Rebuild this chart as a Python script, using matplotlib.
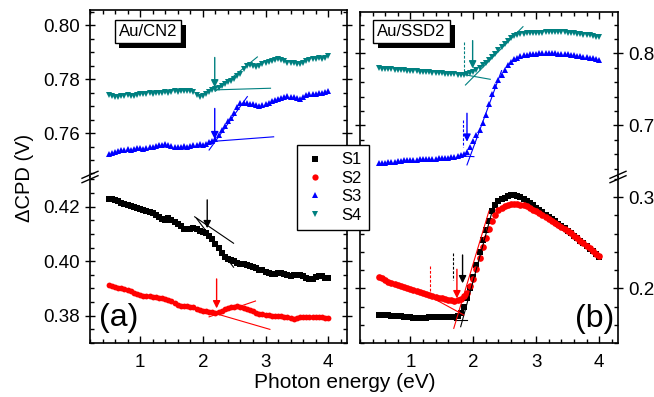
import numpy as np
import matplotlib
matplotlib.use("Agg")
import matplotlib.pyplot as plt
from matplotlib.lines import Line2D
from matplotlib.ticker import MultipleLocator, FormatStrFormatter
import matplotlib.patheffects as pe

plt.rcParams['font.family'] = ['Liberation Sans', 'DejaVu Sans']

# ---------------- data ----------------
energy = np.round(np.arange(0.5, 4.001, 0.05), 2)

cn2_S1 = [0.4228, 0.4227, 0.4224, 0.4221, 0.4215, 0.4210, 0.4206, 0.4203, 0.4198, 0.4195,
          0.4190, 0.4188, 0.4184, 0.4179, 0.4176, 0.4170, 0.4162, 0.4156, 0.4153, 0.4157,
          0.4150, 0.4145, 0.4138, 0.4128, 0.4120, 0.4117, 0.4119, 0.4121, 0.4117, 0.4112,
          0.4108, 0.4104, 0.4094, 0.4080, 0.4063, 0.4047, 0.4030, 0.4016, 0.4010, 0.4004,
          0.3999, 0.3995, 0.3990, 0.3988, 0.3986, 0.3983, 0.3979, 0.3974, 0.3969, 0.3966,
          0.3960, 0.3955, 0.3953, 0.3954, 0.3957, 0.3958, 0.3953, 0.3948, 0.3946, 0.3948,
          0.3950, 0.3949, 0.3945, 0.3940, 0.3934, 0.3936, 0.3941, 0.3946, 0.3944, 0.3940,
          0.3938]
cn2_S2 = [0.3913, 0.3910, 0.3906, 0.3903, 0.3901, 0.3899, 0.3896, 0.3889, 0.3883, 0.3879,
          0.3876, 0.3874, 0.3873, 0.3871, 0.3870, 0.3868, 0.3866, 0.3864, 0.3862, 0.3859,
          0.3853, 0.3846, 0.3840, 0.3836, 0.3835, 0.3834, 0.3832, 0.3831, 0.3826, 0.3821,
          0.3818, 0.3817, 0.3814, 0.3812, 0.3811, 0.3815, 0.3819, 0.3823, 0.3828, 0.3831,
          0.3833, 0.3834, 0.3833, 0.3830, 0.3826, 0.3821, 0.3816, 0.3811, 0.3807, 0.3805,
          0.3803, 0.3801, 0.3799, 0.3799, 0.3798, 0.3798, 0.3797, 0.3796, 0.3791, 0.3787,
          0.3790, 0.3794, 0.3796, 0.3797, 0.3796, 0.3795, 0.3796, 0.3795, 0.3794, 0.3792,
          0.3790]
cn2_S3 = [0.7523, 0.7527, 0.7530, 0.7533, 0.7536, 0.7538, 0.7540, 0.7537, 0.7541, 0.7544,
          0.7543, 0.7540, 0.7545, 0.7548, 0.7549, 0.7551, 0.7554, 0.7556, 0.7558, 0.7557,
          0.7553, 0.7549, 0.7547, 0.7550, 0.7551, 0.7549, 0.7553, 0.7556, 0.7557, 0.7559,
          0.7556, 0.7560, 0.7565, 0.7571, 0.7578, 0.7593, 0.7610, 0.7627, 0.7643, 0.7657,
          0.7673, 0.7695, 0.7710, 0.7712, 0.7710, 0.7708, 0.7706, 0.7704, 0.7702, 0.7703,
          0.7708, 0.7713, 0.7718, 0.7722, 0.7726, 0.7731, 0.7734, 0.7736, 0.7735, 0.7732,
          0.7728, 0.7726, 0.7733, 0.7740, 0.7743, 0.7744, 0.7746, 0.7748, 0.7750, 0.7752,
          0.7757]
cn2_S4 = [0.7741, 0.7738, 0.7735, 0.7733, 0.7736, 0.7738, 0.7740, 0.7737, 0.7738, 0.7742,
          0.7745, 0.7743, 0.7746, 0.7748, 0.7744, 0.7747, 0.7750, 0.7748, 0.7751, 0.7750,
          0.7752, 0.7754, 0.7753, 0.7756, 0.7757, 0.7755, 0.7757, 0.7752, 0.7742, 0.7734,
          0.7738, 0.7746, 0.7752, 0.7758, 0.7762, 0.7768, 0.7773, 0.7781, 0.7789, 0.7794,
          0.7801, 0.7810, 0.7819, 0.7836, 0.7848, 0.7852, 0.7849, 0.7846, 0.7850, 0.7856,
          0.7861, 0.7863, 0.7866, 0.7872, 0.7874, 0.7870, 0.7866, 0.7861, 0.7859, 0.7858,
          0.7856, 0.7857, 0.7861, 0.7866, 0.7871, 0.7875, 0.7874, 0.7877, 0.7874, 0.7878,
          0.7887]

ssd2_S1 = [0.1707, 0.1706, 0.1705, 0.1703, 0.1700, 0.1697, 0.1695, 0.1693, 0.1690, 0.1688,
           0.1684, 0.1679, 0.1673, 0.1670, 0.1672, 0.1676, 0.1680, 0.1683, 0.1685, 0.1687,
           0.1688, 0.1688, 0.1689, 0.1689, 0.1690, 0.1700, 0.1725, 0.1800, 0.1890, 0.2005,
           0.2120, 0.2260, 0.2400, 0.2530, 0.2640, 0.2740, 0.2850, 0.2910, 0.2955, 0.2978,
           0.2995, 0.3010, 0.3020, 0.3025, 0.3018, 0.3005, 0.2985, 0.2960, 0.2934, 0.2910,
           0.2885, 0.2860, 0.2835, 0.2810, 0.2785, 0.2760, 0.2735, 0.2710, 0.2685, 0.2660,
           0.2635, 0.2608, 0.2580, 0.2552, 0.2525, 0.2495, 0.2465, 0.2435, 0.2405, 0.2375,
           0.2347]
ssd2_S2 = [0.2128, 0.2110, 0.2090, 0.2070, 0.2055, 0.2043, 0.2032, 0.2022, 0.2010, 0.2001,
           0.1992, 0.1982, 0.1972, 0.1960, 0.1950, 0.1940, 0.1930, 0.1918, 0.1906, 0.1896,
           0.1888, 0.1880, 0.1873, 0.1867, 0.1864, 0.1868, 0.1885, 0.1910, 0.1945, 0.2020,
           0.2100, 0.2210, 0.2330, 0.2450, 0.2550, 0.2650, 0.2740, 0.2800, 0.2855, 0.2885,
           0.2905, 0.2918, 0.2925, 0.2927, 0.2925, 0.2918, 0.2910, 0.2900, 0.2885, 0.2865,
           0.2845, 0.2826, 0.2806, 0.2787, 0.2766, 0.2744, 0.2722, 0.2700, 0.2679, 0.2657,
           0.2632, 0.2605, 0.2578, 0.2550, 0.2522, 0.2494, 0.2466, 0.2438, 0.2410, 0.2382,
           0.2355]
ssd2_S3 = [0.6472, 0.6478, 0.6483, 0.6488, 0.6492, 0.6496, 0.6500, 0.6506, 0.6512, 0.6517,
           0.6520, 0.6522, 0.6525, 0.6527, 0.6530, 0.6532, 0.6534, 0.6536, 0.6538, 0.6540,
           0.6543, 0.6547, 0.6551, 0.6556, 0.6562, 0.6572, 0.6585, 0.6605, 0.6634, 0.6700,
           0.6780, 0.6860, 0.6940, 0.7030, 0.7150, 0.7290, 0.7430, 0.7540, 0.7630, 0.7705,
           0.7775, 0.7835, 0.7880, 0.7915, 0.7940, 0.7958, 0.7972, 0.7983, 0.7990, 0.7994,
           0.7997, 0.7999, 0.8000, 0.8001, 0.8001, 0.8000, 0.7999, 0.7997, 0.7994, 0.7991,
           0.7987, 0.7980, 0.7975, 0.7968, 0.7961, 0.7953, 0.7946, 0.7938, 0.7930, 0.7920,
           0.7907]
ssd2_S4 = [0.7790, 0.7787, 0.7784, 0.7781, 0.7778, 0.7775, 0.7772, 0.7768, 0.7764, 0.7760,
           0.7756, 0.7752, 0.7749, 0.7745, 0.7742, 0.7738, 0.7734, 0.7731, 0.7727, 0.7724,
           0.7720, 0.7717, 0.7713, 0.7710, 0.7706, 0.7703, 0.7702, 0.7705, 0.7712, 0.7725,
           0.7742, 0.7770, 0.7800, 0.7835, 0.7870, 0.7905, 0.7945, 0.7990, 0.8040, 0.8085,
           0.8130, 0.8175, 0.8215, 0.8243, 0.8260, 0.8270, 0.8275, 0.8278, 0.8280, 0.8282,
           0.8284, 0.8286, 0.8288, 0.8292, 0.8296, 0.8300, 0.8299, 0.8296, 0.8293, 0.8290,
           0.8286, 0.8281, 0.8277, 0.8272, 0.8266, 0.8260, 0.8255, 0.8248, 0.8240, 0.8232,
           0.8222]

series_labels = ['S1', 'S2', 'S3', 'S4']
colors = ['#000000', '#ff0000', '#0000ff', '#008080']
markers = ['s', 'o', '^', 'v']

# annotations: arrows (x, y_start, y_end), dashed (x, y0, y1), tangents ((x0,x1),(y0,y1))
a_top_arrows = [(2.19, 0.7880, 0.7769, 3), (2.19, 0.7691, 0.7577, 2)]
a_top_tangents = [((2.20, 3.08), (0.7760, 0.7766), 3), ((2.20, 2.87), (0.7755, 0.7882), 3),
                  ((2.10, 3.13), (0.7568, 0.7586), 2), ((2.10, 2.71), (0.7537, 0.7735), 2)]
a_bot_arrows = [(2.07, 0.4225, 0.4121, 0), (2.22, 0.3935, 0.3827, 1)]
a_bot_tangents = [((1.87, 2.49), (0.4163, 0.4066), 0), ((1.90, 2.49), (0.4157, 0.3978), 0),
                  ((2.10, 2.84), (0.3796, 0.3854), 1), ((2.10, 3.07), (0.3815, 0.3750), 1)]
b_top_arrows = [(1.99, 0.8176, 0.7790, 3), (1.90, 0.7167, 0.6772, 2)]
b_top_dashed = [(1.85, 0.8160, 0.7745, 3), (1.83, 0.7074, 0.6703, 2)]
b_top_tangents = [((1.876, 2.79), (0.756, 0.837), 3), ((1.80, 2.27), (0.7712, 0.7639), 3),
                  ((1.90, 2.45), (0.645, 0.776), 2), ((1.80, 2.01), (0.6575, 0.6565), 2)]
b_bot_arrows = [(1.83, 0.2366, 0.2055, 0), (1.74, 0.2209, 0.1890, 1)]
b_bot_dashed = [(1.68, 0.2391, 0.2091, 0), (1.31, 0.2245, 0.1945, 1)]
b_bot_tangents = [((1.69, 1.90), (0.1652, 0.1652), 0), ((1.80, 2.32), (0.1578, 0.2897), 0),
                  ((1.69, 2.25), (0.156, 0.285), 1), ((1.32, 1.85), (0.1907, 0.1707), 1)]

# ---------------- layout ----------------
W, H = 654, 397
fig = plt.figure(figsize=(W / 100, H / 100), dpi=100)

def rect(x0, x1, y0, y1):
    return [x0 / W, 1 - y1 / H, (x1 - x0) / W, (y1 - y0) / H]

BRK = 177
axA_t = fig.add_axes(rect(90, 347, 10, BRK))
axA_b = fig.add_axes(rect(90, 347, BRK, 343))
axB_t = fig.add_axes(rect(360, 618, 11.7, BRK))
axB_b = fig.add_axes(rect(360, 618, BRK, 343))

axA_t.set_ylim(0.7437, 0.8056)
axA_b.set_ylim(0.3700, 0.4309)
axB_t.set_ylim(0.6282, 0.8578)
axB_b.set_ylim(0.1399, 0.3223)

for ax in (axA_t, axA_b, axB_t, axB_b):
    ax.set_xlim(0.2, 4.3)
    ax.xaxis.set_major_locator(MultipleLocator(1))
    ax.xaxis.set_minor_locator(MultipleLocator(0.2))
    for s in ax.spines.values():
        s.set_linewidth(1.2)
    ax.tick_params(which='both', direction='in', top=True, bottom=True,
                   left=True, right=True, labelsize=13.5, width=1.0)
    ax.tick_params(which='major', length=5)
    ax.tick_params(which='minor', length=3)
    ax.tick_params(axis='y', which='major', direction='inout', length=7)

for ax in (axA_t, axB_t):
    ax.spines['bottom'].set_visible(False)
    ax.tick_params(axis='x', which='both', bottom=False, labelbottom=False)
for ax in (axA_b, axB_b):
    ax.spines['top'].set_visible(False)
    ax.tick_params(axis='x', which='both', top=False, pad=8)

axA_t.yaxis.set_major_locator(MultipleLocator(0.02))
axA_t.yaxis.set_minor_locator(MultipleLocator(0.005))
axA_b.yaxis.set_major_locator(MultipleLocator(0.02))
axA_b.yaxis.set_minor_locator(MultipleLocator(0.005))
for ax in (axA_t, axA_b):
    ax.yaxis.set_major_formatter(FormatStrFormatter('%.2f'))
    ax.tick_params(axis='y', labelleft=True, labelright=False, pad=4)

axB_t.yaxis.set_major_locator(MultipleLocator(0.1))
axB_t.yaxis.set_minor_locator(MultipleLocator(0.02))
axB_b.yaxis.set_major_locator(MultipleLocator(0.1))
axB_b.yaxis.set_minor_locator(MultipleLocator(0.02))
for ax in (axB_t, axB_b):
    ax.yaxis.set_major_formatter(FormatStrFormatter('%.1f'))
    ax.tick_params(axis='y', labelleft=False, labelright=True, pad=4)

# ---------------- data plotting ----------------
def plot_series(ax, y, i, ms):
    ax.plot(energy, y, ls='none', marker=markers[i], color=colors[i], ms=ms,
            mew=0, clip_on=False)

plot_series(axA_t, cn2_S4, 3, 4.2)
plot_series(axA_t, cn2_S3, 2, 4.2)
plot_series(axA_b, cn2_S1, 0, 4.0)
plot_series(axA_b, cn2_S2, 1, 4.2)
plot_series(axB_t, ssd2_S4, 3, 4.8)
plot_series(axB_t, ssd2_S3, 2, 4.8)
plot_series(axB_b, ssd2_S1, 0, 4.2)
plot_series(axB_b, ssd2_S2, 1, 4.8)

def draw_arrows(ax, arrows):
    for x, y0, y1, c in arrows:
        ax.annotate('', xy=(x, y1), xytext=(x, y0),
                    arrowprops=dict(arrowstyle='-|>', color=colors[c], lw=1.0,
                                    mutation_scale=11, shrinkA=0, shrinkB=0))

def draw_tangents(ax, tans):
    for xs, ys, c in tans:
        ax.plot(xs, ys, color=colors[c], lw=0.8)

def draw_dashed(ax, dashed):
    for x, y0, y1, c in dashed:
        ax.plot([x, x], [y0, y1], color=colors[c], lw=0.8, ls=(0, (2.5, 1.5)))

draw_tangents(axA_t, a_top_tangents); draw_arrows(axA_t, a_top_arrows)
draw_tangents(axA_b, a_bot_tangents); draw_arrows(axA_b, a_bot_arrows)
draw_tangents(axB_t, b_top_tangents); draw_arrows(axB_t, b_top_arrows); draw_dashed(axB_t, b_top_dashed)
draw_tangents(axB_b, b_bot_tangents); draw_arrows(axB_b, b_bot_arrows); draw_dashed(axB_b, b_bot_dashed)

# ---------------- break marks ----------------
for xs in (90, 618):
    for dy in (-2.2, 2.2):
        fig.add_artist(Line2D([(xs - 8) / W, (xs + 8) / W],
                              [1 - (BRK + dy + 3.5) / H, 1 - (BRK + dy - 3.5) / H],
                              color='k', lw=1.0, transform=fig.transFigure))

# ---------------- texts ----------------
fig.text(345 / W, 1 - 383 / H, 'Photon energy (eV)', ha='center', va='center', fontsize=15)
fig.text(24 / W, 1 - 178 / H, '\u0394CPD (V)', ha='center', va='center', rotation=90, fontsize=14.5)
fig.text(119 / W, 1 - 318 / H, '(a)', ha='center', va='center', fontsize=23)
fig.text(595 / W, 1 - 319 / H, '(b)', ha='center', va='center', fontsize=23)

for xc, label in ((148, 'Au/CN2'), (411.7, 'Au/SSD2')):
    t = fig.text(xc / W, 1 - 31.5 / H, label, ha='center', va='center', fontsize=12,
                 bbox=dict(boxstyle='square,pad=0.25', fc='white', ec='black', lw=1.0))
    t.get_bbox_patch().set_path_effects([
        pe.SimplePatchShadow(offset=(3.5, -3.5), shadow_rgbFace='black', alpha=1.0),
        pe.Normal()])

handles = [Line2D([], [], ls='none', marker=markers[i], color=colors[i], ms=4.5, mew=0)
           for i in range(4)]
leg = fig.legend(handles, series_labels, loc='upper left',
                 bbox_to_anchor=(297 / W, 1 - 145 / H), bbox_transform=fig.transFigure,
                 frameon=True, fancybox=False, edgecolor='black', fontsize=12,
                 handlelength=1.3, handletextpad=0.9, labelspacing=0.2,
                 borderpad=0.45, borderaxespad=0.0, framealpha=1.0)
leg.get_frame().set_linewidth(1.0)

fig.savefig('out.png', dpi=100)
